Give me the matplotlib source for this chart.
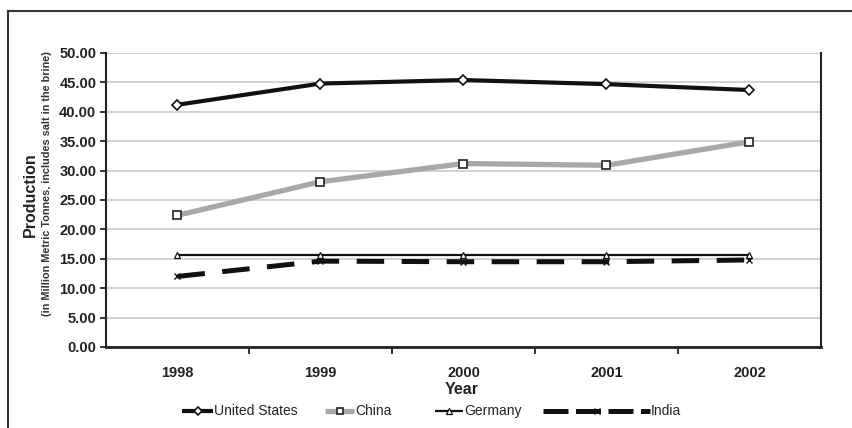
import matplotlib
matplotlib.use("Agg")
import matplotlib.pyplot as plt
from matplotlib.lines import Line2D

plt.rcParams['font.family'] = ['Liberation Sans', 'DejaVu Sans']

years = ["1998", "1999", "2000", "2001", "2002"]
united_states = [41.2, 44.8, 45.4, 44.7, 43.7]
china = [22.4, 28.1, 31.2, 30.9, 34.9]
germany = [15.6, 15.6, 15.6, 15.6, 15.6]
india = [12.0, 14.6, 14.5, 14.5, 14.8]
y_ticks = [0, 5, 10, 15, 20, 25, 30, 35, 40, 45, 50]

fig = plt.figure(figsize=(8.52, 4.28), dpi=100)
ax = fig.add_axes([0.1244, 0.1893, 0.9636 - 0.1244, 0.8762 - 0.1893])

x = list(range(len(years)))

series = [
    dict(label="United States", y=united_states, color="#111111", lw=3.0,
         marker="D", ms=5, mfc="white", mec="#111111", mew=1.2, dashes=None),
    dict(label="China", y=china, color="#a8a8a8", lw=3.8,
         marker="s", ms=5.5, mfc="white", mec="#222222", mew=1.2, dashes=None),
    dict(label="Germany", y=germany, color="#111111", lw=1.6,
         marker="^", ms=5, mfc="white", mec="#111111", mew=0.9, dashes=None),
    dict(label="India", y=india, color="#111111", lw=3.6,
         marker="x", ms=5, mfc="#111111", mec="#111111", mew=1.0, dashes=(5.5, 3.5)),
]

for s in series:
    kw = {}
    if s["dashes"]:
        kw["dashes"] = s["dashes"]
    ax.plot(x, s["y"], color=s["color"], lw=s["lw"], marker=s["marker"],
            ms=s["ms"], mfc=s["mfc"], mec=s["mec"], mew=s["mew"],
            solid_capstyle="butt", dash_capstyle="butt", zorder=3, **kw)

ax.set_xlim(-0.5, len(years) - 0.5)
ax.set_ylim(0, 50)
ax.set_yticks(y_ticks)
ax.set_yticklabels([f"{v:.2f}" for v in y_ticks], fontsize=10.5, fontweight="bold",
                   color="#222222")
ax.set_xticks(x)
ax.set_xticklabels(years, fontsize=10.5, fontweight="bold", color="#222222")
ax.tick_params(axis="x", which="major", length=0, pad=14)
ax.set_xticks([i + 0.5 for i in range(len(years) - 1)], minor=True)
ax.tick_params(axis="x", which="minor", length=5, width=1.3, color="#222222",
               direction="out")
ax.tick_params(axis="y", length=4, width=1.3, color="#222222", direction="out", pad=3)

ax.grid(axis="y", color="#d2d2d2", lw=1.4, zorder=0)
ax.set_axisbelow(True)
for side in ["left", "bottom", "right"]:
    ax.spines[side].set_color("#222222")
ax.spines["left"].set_linewidth(1.5)
ax.spines["bottom"].set_linewidth(2.0)
ax.spines["right"].set_linewidth(1.5)
ax.spines["top"].set_visible(False)

# axis titles
fig.text(462 / 852, 1 - 390 / 428, "Year", ha="center", va="center",
         fontsize=11.5, fontweight="bold", color="#222222")
fig.text(30 / 852, 1 - 195 / 428, "Production", rotation=90, ha="center",
         va="center", fontsize=11.5, fontweight="bold", color="#222222")
fig.text(47 / 852, 1 - 184 / 428,
         "(in Million Metric Tonnes, includes salt in the brine)", rotation=90,
         ha="center", va="center", fontsize=7.8, fontweight="bold", color="#333333")

# legend row
legend_y = 1 - 411 / 428
handles = [(182, 213), (325, 354), (435, 463), (543, 650)]
for s, (x0, x1) in zip(series, handles):
    kw = {}
    if s["dashes"]:
        kw["dashes"] = (5.0, 1.5)
    fig.add_artist(Line2D([x0 / 852, x1 / 852], [legend_y, legend_y],
                          transform=fig.transFigure, color=s["color"], lw=s["lw"],
                          solid_capstyle="butt", dash_capstyle="butt", **kw))
    fig.add_artist(Line2D([(x0 + x1) / 2 / 852], [legend_y],
                          transform=fig.transFigure, color=s["color"], lw=0,
                          marker=s["marker"], ms=s["ms"] - 0.5, mfc=s["mfc"],
                          mec=s["mec"], mew=s["mew"]))
    fig.text((x1 + 1) / 852, legend_y, s["label"], ha="left", va="center",
             fontsize=10, color="#222222")

# outer frame
fig.add_artist(Line2D([8 / 852, 1.0], [1 - 11 / 428, 1 - 11 / 428],
                      transform=fig.transFigure, color="#333333", lw=1.5))
fig.add_artist(Line2D([8 / 852, 8 / 852], [0, 1 - 11 / 428],
                      transform=fig.transFigure, color="#333333", lw=1.5))

fig.savefig("out.png", dpi=100, facecolor="white")
